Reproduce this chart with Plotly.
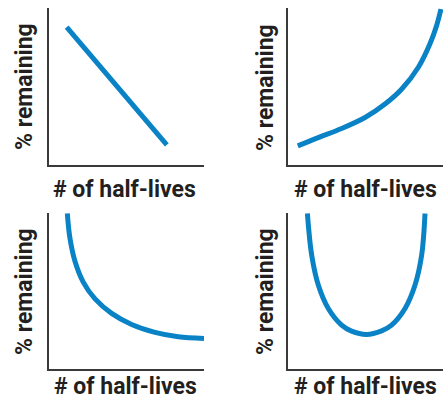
import plotly.graph_objects as go

# four sketch curves (axes 0..10, no ticks)
linear_x = [1.14, 7.6]
linear_y = [8.8, 1.28]

growth_x = [0.63, 1.95, 3.46, 4.97, 6.26, 7.34, 8.41, 9.16, 9.59, 9.87]
growth_y = [1.22, 1.75, 2.33, 3.03, 3.89, 4.85, 6.24, 7.74, 8.91, 9.95]

decay_x = [1.18, 1.35, 1.68, 2.2, 2.97, 4.04, 5.33, 6.84, 8.34, 10.0]
decay_y = [10.0, 8.4, 6.9, 5.6, 4.5, 3.57, 2.86, 2.35, 2.07, 1.96]

ushape_x = [1.25, 1.53, 1.96, 2.6, 3.46, 4.1, 5.07, 6.04, 6.68, 7.55, 8.19, 8.62, 8.84]
ushape_y = [10.0, 7.3, 5.38, 3.89, 2.82, 2.43, 2.22, 2.45, 2.82, 3.89, 5.38, 7.3, 10.0]

x_title = "# of half-lives"
y_title = "% remaining"

blue = "#0A82C6"
font = "Roboto"
W, H = 446, 401

panels = [
    (linear_x, linear_y, "linear"),
    (growth_x, growth_y, "spline"),
    (decay_x, decay_y, "spline"),
    (ushape_x, ushape_y, "spline"),
]
# plot area of each panel in pixels: (left, right, top, bottom)
boxes = [
    (49, 204, 8.3, 165),
    (288, 443, 8.3, 165),
    (49, 204, 213.3, 369),
    (288, 443, 213.3, 369),
]
# title centres in pixels: (x title cx, cy), (y title cx, cy)
titles = [
    ((125, 189), (24, 87)),
    ((365, 189), (265, 88)),
    ((126, 386), (24, 292)),
    ((365, 386), (265, 292)),
]


def px(x):
    return x / W


def py(y):
    return 1 - y / H


fig = go.Figure()
annotations = []
for i, ((xs, ys, shape), box, (xt, yt)) in enumerate(zip(panels, boxes, titles), start=1):
    sfx = "" if i == 1 else str(i)
    left, right, top, bottom = box
    fig.add_trace(go.Scatter(
        x=xs, y=ys, mode="lines",
        line=dict(color=blue, width=5, shape=shape, smoothing=1.0),
        xaxis="x" + sfx, yaxis="y" + sfx,
        hoverinfo="none",
    ))
    common = dict(range=[0, 10], showgrid=False, zeroline=False,
                  showticklabels=False, ticks="", showline=True,
                  linecolor="#3a3a3a", linewidth=1.5, fixedrange=True)
    fig.layout["xaxis" + sfx] = dict(domain=[px(left), px(right)],
                                     anchor="y" + sfx, **common)
    fig.layout["yaxis" + sfx] = dict(domain=[py(bottom), py(top)],
                                     anchor="x" + sfx, **common)

    annotations.append(dict(
        text="<b>%s</b>" % x_title, xref="paper", yref="paper",
        x=px(xt[0]), y=py(xt[1]),
        xanchor="center", yanchor="middle", showarrow=False,
        font=dict(family=font, size=23, color="#231F20"),
    ))
    annotations.append(dict(
        text="<b>%s</b>" % y_title, xref="paper", yref="paper",
        x=px(yt[0]), y=py(yt[1]),
        xanchor="center", yanchor="middle", textangle=-90, showarrow=False,
        font=dict(family=font, size=23, color="#231F20"),
    ))

fig.update_layout(
    width=W, height=H,
    margin=dict(l=0, r=0, t=0, b=0),
    paper_bgcolor="white", plot_bgcolor="white",
    showlegend=False,
    annotations=annotations,
)

fig.write_html("out.html", config={"displayModeBar": False},
               post_script="document.body.style.margin='0px';")
